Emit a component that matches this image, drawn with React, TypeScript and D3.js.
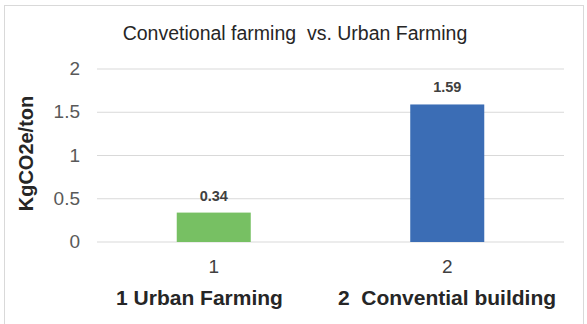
import React from "react";
import * as d3 from "d3";

const categories = ["1", "2"];
const values = [0.34, 1.59];
const barColors = ["#77c063", "#3b6db5"];
const yTicks = [0, 0.5, 1, 1.5, 2];
const groupLabels = ["1 Urban Farming", "2  Convential building"];
const title = "Convetional farming  vs. Urban Farming";
const yTitle = "KgCO2e/ton";

export default function App() {
  const W = 587, H = 324;
  const plotL = 97, plotR = 564, plotT = 69, plotB = 242;
  const x = d3.scaleBand().domain(categories).range([plotL, plotR]).paddingInner(0.683).paddingOuter(0.3415);
  const y = d3.scaleLinear().domain([0, 2]).range([plotB, plotT]);
  const font = "'Liberation Sans', Arial, sans-serif";
  const groupCenters = [199.5, 447];
  return (
    <svg width={W} height={H} style={{ position: "absolute", left: 0, top: 0 }}>
      <rect x={0} y={0} width={W} height={H} fill="#fff" />
      <rect x={4.5} y={5.5} width={579} height={330} fill="#fff" stroke="#d9d9d9" strokeWidth={1} />
      <text x={295} y={40} textAnchor="middle" fontFamily={font} fontSize={19.5} fill="#262626" style={{ whiteSpace: "pre" }}>{title}</text>
      {yTicks.map((t) => (
        <g key={t}>
          <line x1={plotL} x2={plotR} y1={y(t)} y2={y(t)} stroke="#d9d9d9" strokeWidth={1} />
          <text x={80} y={y(t) + 6} textAnchor="end" fontFamily={font} fontSize={19} fill="#595959">{t}</text>
        </g>
      ))}
      <text transform={`translate(33,153.5) rotate(-90)`} textAnchor="middle" fontFamily={font} fontSize={20} fontWeight="bold" fill="#262626">{yTitle}</text>
      {categories.map((c, i) => {
        const bx = x(c)!;
        const cx = bx + x.bandwidth() / 2;
        return (
          <g key={c}>
            <rect x={bx} y={y(values[i])} width={x.bandwidth()} height={plotB - y(values[i])} fill={barColors[i]} />
            <text x={cx} y={y(values[i]) - 12} textAnchor="middle" fontFamily={font} fontSize={14.5} fontWeight="bold" fill="#404040">{values[i]}</text>
            <text x={cx} y={273} textAnchor="middle" fontFamily={font} fontSize={19} fill="#404040">{c}</text>
            <text x={groupCenters[i]} y={305} textAnchor="middle" fontFamily={font} fontSize={21} fontWeight="bold" fill="#262626" style={{ whiteSpace: "pre" }}>{groupLabels[i]}</text>
          </g>
        );
      })}
    </svg>
  );
}
